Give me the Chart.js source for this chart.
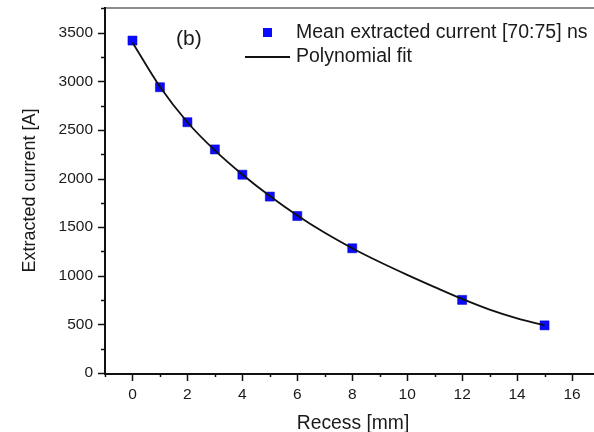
<!DOCTYPE html>
<html>
<head>
<meta charset="utf-8">
<script src="https://cdn.jsdelivr.net/npm/chart.js@4/dist/chart.umd.min.js"></script>
<style>
  html, body { margin: 0; padding: 0; background: #ffffff; }
  #wrap { width: 594px; height: 432px; }
</style>
</head>
<body>
<div id="wrap"><canvas id="c" width="594" height="432"></canvas></div>
<script>
// ---- data ----
const recess = [0, 1, 2, 3, 4, 5, 6, 8, 12, 15];
const meanCurrent = [3420, 2940, 2580, 2300, 2040, 1815, 1615, 1283, 752, 490];
const fitRecess = [0, 1, 2, 3, 4, 5, 6, 7, 8, 9, 10, 11, 12, 13, 14, 15];
const fitCurrent = [3400, 2945, 2580, 2290, 2042, 1820, 1620, 1442, 1284, 1142, 1010, 884, 762, 652, 562, 490];
const xMajorTicks = [0, 2, 4, 6, 8, 10, 12, 14, 16];
const xMinorTicks = [-1, 1, 3, 5, 7, 9, 11, 13, 15];
const yMajorTicks = [0, 500, 1000, 1500, 2000, 2500, 3000, 3500];
const yMinorTicks = [250, 750, 1250, 1750, 2250, 2750, 3250, 3750];
const seriesNames = ['Mean extracted current [70:75] ns', 'Polynomial fit'];
const panelLabel = '(b)';
const xTitle = 'Recess [mm]';
const yTitle = 'Extracted current [A]';

const FONT = '"Liberation Sans", Arial, sans-serif';
const TXT = '#1a1a1a';

const scatterData = recess.map((x, i) => ({ x: x, y: meanCurrent[i] }));
const fitData = fitRecess.map((x, i) => ({ x: x, y: fitCurrent[i] }));

const decor = {
  id: 'decor',
  afterDraw(chart) {
    const ctx = chart.ctx;
    const a = chart.chartArea;
    const xs = chart.scales.x, ys = chart.scales.y;
    ctx.save();
    // top frame (gray)
    ctx.strokeStyle = '#8c8c8c';
    ctx.lineWidth = 2;
    ctx.beginPath();
    ctx.moveTo(a.left, a.top); ctx.lineTo(a.right, a.top);
    ctx.stroke();
    // axes
    ctx.strokeStyle = '#111';
    ctx.lineWidth = 2;
    ctx.beginPath();
    ctx.moveTo(a.left, a.top - 1); ctx.lineTo(a.left, a.bottom + 1);
    ctx.lineTo(a.right, a.bottom + 1);
    ctx.stroke();
    // ticks
    ctx.lineWidth = 1.5;
    ctx.beginPath();
    const xt = xMajorTicks.map(v => [v, 7]).concat(xMinorTicks.map(v => [v, 3]));
    xt.forEach(([v, len]) => {
      const px = Math.round(xs.getPixelForValue(v)) + 0.5;
      ctx.moveTo(px, a.bottom + 1); ctx.lineTo(px, a.bottom + 1 + len);
    });
    const yt = yMajorTicks.map(v => [v, 7]).concat(yMinorTicks.map(v => [v, 4]));
    yt.forEach(([v, len]) => {
      const py = Math.round(ys.getPixelForValue(v)) + 0.5;
      ctx.moveTo(a.left, py); ctx.lineTo(a.left - len, py);
    });
    ctx.stroke();

    // axis titles
    ctx.fillStyle = TXT;
    ctx.font = '19.3px ' + FONT;
    ctx.textAlign = 'center';
    ctx.textBaseline = 'alphabetic';
    ctx.fillText(xTitle, 353, 429);
    ctx.save();
    ctx.translate(35, (a.top + a.bottom) / 2);
    ctx.rotate(-Math.PI / 2);
    ctx.font = '18px ' + FONT;
    ctx.fillText(yTitle, 0, 0);
    ctx.restore();

    // panel label
    ctx.font = '21px ' + FONT;
    ctx.textAlign = 'left';
    ctx.textBaseline = 'middle';
    ctx.fillText(panelLabel, 176, 39);

    // legend
    ctx.fillStyle = '#0a0aff';
    ctx.fillRect(263, 28, 9, 9);
    ctx.strokeStyle = '#111';
    ctx.lineWidth = 2;
    ctx.beginPath();
    ctx.moveTo(245, 57); ctx.lineTo(290, 57);
    ctx.stroke();
    ctx.fillStyle = TXT;
    ctx.font = '19.5px ' + FONT;
    ctx.fillText(seriesNames[0], 296, 33);
    ctx.fillText(seriesNames[1], 296, 57);
    ctx.restore();
  }
};

new Chart(document.getElementById('c'), {
  type: 'scatter',
  data: {
    datasets: [
      {
        label: seriesNames[1],
        data: fitData,
        showLine: true,
        borderColor: '#111',
        borderWidth: 1.8,
        pointRadius: 0,
        cubicInterpolationMode: 'monotone',
        order: 0
      },
      {
        label: seriesNames[0],
        data: scatterData,
        pointStyle: 'rect',
        pointRadius: 6.4,
        backgroundColor: '#0a0aff',
        borderColor: '#0000c8',
        borderWidth: 0.5,
        order: 1
      }
    ]
  },
  options: {
    responsive: false,
    devicePixelRatio: 1,
    animation: false,
    layout: { autoPadding: false, padding: { top: 8, right: 0, left: 0, bottom: 0 } },
    plugins: { legend: { display: false }, tooltip: { enabled: false } },
    scales: {
      x: {
        type: 'linear',
        min: -1,
        max: 16.8,
        grid: { display: false, drawTicks: false },
        border: { display: false },
        afterBuildTicks(s) { s.ticks = xMajorTicks.map(v => ({ value: v })); },
        afterFit(s) { s.height = 59; s.paddingRight = 0; s.paddingLeft = 0; },
        ticks: {
          autoSkip: false,
          maxRotation: 0,
          padding: 12,
          color: TXT,
          font: { family: FONT, size: 15.5 },
          callback: v => String(v)
        }
      },
      y: {
        type: 'linear',
        min: 0,
        max: 3755,
        grid: { display: false, drawTicks: false },
        border: { display: false },
        afterBuildTicks(s) { s.ticks = yMajorTicks.map(v => ({ value: v })); },
        afterFit(s) { s.width = 105; s.paddingTop = 0; s.paddingBottom = 0; },
        ticks: {
          autoSkip: false,
          padding: 12,
          color: TXT,
          font: { family: FONT, size: 15.5 },
          callback: v => String(v)
        }
      }
    }
  },
  plugins: [decor]
});
</script>
</body>
</html>
